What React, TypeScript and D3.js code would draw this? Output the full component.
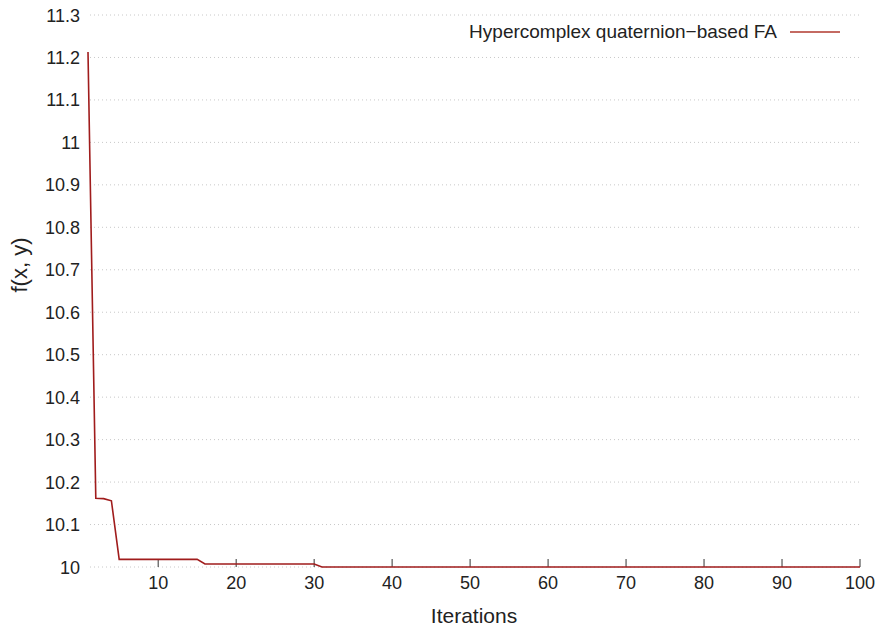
import { useEffect, useRef } from "react";
import * as d3 from "d3";

// iterations where the best value changes (flat in between)
const iterations = [1, 2, 3, 4, 5, 15, 16, 30, 31, 100];
const fitness = [11.213, 10.162, 10.161, 10.156, 10.018, 10.018, 10.007, 10.007, 10.0, 10.0];
const yTicks = [10, 10.1, 10.2, 10.3, 10.4, 10.5, 10.6, 10.7, 10.8, 10.9, 11, 11.1, 11.2, 11.3];
const xTicks = [10, 20, 30, 40, 50, 60, 70, 80, 90, 100];
const seriesName = "Hypercomplex quaternion\u2212based FA";

const W = 879;
const H = 629;
const FONT = "'Liberation Sans', Arial, sans-serif";
const RED = "#a01c1c";

const App = () => {
  const ref = useRef<SVGSVGElement>(null);

  useEffect(() => {
    const svg = d3.select(ref.current);
    svg.selectAll("*").remove();

    const x = d3.scaleLinear().domain([1, 100]).range([88, 860]);
    const y = d3.scaleLinear().domain([10, 11.3]).range([567, 15]);

    // horizontal dotted grid
    svg
      .append("g")
      .selectAll("line")
      .data(yTicks)
      .join("line")
      .attr("x1", x(1) + 2)
      .attr("x2", x(100))
      .attr("y1", (d) => y(d))
      .attr("y2", (d) => y(d))
      .attr("stroke", "#c8c8c8")
      .attr("stroke-width", 1)
      .attr("stroke-dasharray", "1,3");

    // y tick labels
    svg
      .append("g")
      .attr("font-family", FONT)
      .attr("font-size", 18)
      .attr("fill", "#222")
      .attr("text-anchor", "end")
      .selectAll("text")
      .data(yTicks)
      .join("text")
      .attr("x", 80)
      .attr("y", (d) => y(d) + 6.5)
      .text((d) => d3.format("~g")(d));

    // x ticks (pointing up) + labels
    const xg = svg.append("g");
    xg.selectAll("line")
      .data(xTicks)
      .join("line")
      .attr("x1", (d) => x(d))
      .attr("x2", (d) => x(d))
      .attr("y1", y(10))
      .attr("y2", y(10) - 8)
      .attr("stroke", "#333")
      .attr("stroke-width", 1);
    xg.selectAll("text")
      .data(xTicks)
      .join("text")
      .attr("x", (d) => x(d))
      .attr("y", 589)
      .attr("text-anchor", "middle")
      .attr("font-family", FONT)
      .attr("font-size", 18)
      .attr("fill", "#222")
      .text((d) => d);

    // series
    const line = d3
      .line<number>()
      .x((d, i) => x(iterations[i]))
      .y((d) => y(d));
    svg
      .append("path")
      .datum(fitness)
      .attr("fill", "none")
      .attr("stroke", RED)
      .attr("stroke-width", 1.6)
      .attr("d", line);

    // legend
    const lg = svg.append("g").attr("font-family", FONT).attr("font-size", 19);
    lg.append("text")
      .attr("x", 777)
      .attr("y", 38)
      .attr("text-anchor", "end")
      .attr("fill", "#222")
      .text(seriesName);
    lg.append("line")
      .attr("x1", 790)
      .attr("x2", 840)
      .attr("y1", 32)
      .attr("y2", 32)
      .attr("stroke", "#b0392e")
      .attr("stroke-width", 1.6);

    // axis titles
    svg
      .append("text")
      .attr("x", 474)
      .attr("y", 623)
      .attr("text-anchor", "middle")
      .attr("font-family", FONT)
      .attr("font-size", 21)
      .attr("fill", "#222")
      .text("Iterations");
    svg
      .append("text")
      .attr("transform", `translate(27,265) rotate(-90)`)
      .attr("text-anchor", "middle")
      .attr("font-family", FONT)
      .attr("font-size", 22)
      .attr("fill", "#222")
      .text("f(x, y)");
  }, []);

  return (
    <svg
      ref={ref}
      width={W}
      height={H}
      style={{ position: "absolute", left: 0, top: 0, background: "#fff" }}
    />
  );
};

export default App;
